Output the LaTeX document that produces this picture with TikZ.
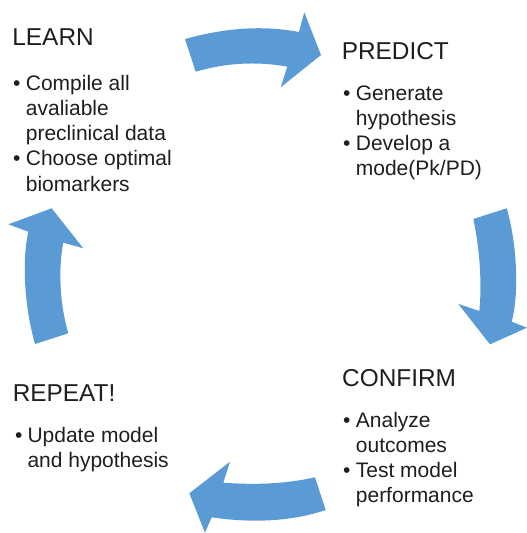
\documentclass[tikz,border=0pt]{standalone}
\usepackage{fontspec}
\setmainfont{Liberation Sans}
\begin{document}
\begin{tikzpicture}[x=1pt,y=-1pt,
  headtext/.style={anchor=base west,inner sep=0pt,text=ink,font=\fontsize{24.4}{29}\selectfont},
  itemtext/.style={anchor=base west,inner sep=0pt,text=ink,font=\fontsize{21}{25}\selectfont},
  dotmark/.style={anchor=base west,inner sep=0pt,text=ink,font=\fontsize{21}{25}\selectfont},
  cyclearrow/.style={fill=arrowblue,draw=none}]
\definecolor{arrowblue}{RGB}{91,155,213}
\definecolor{ink}{RGB}{30,30,30}
\useasboundingbox (0,0) rectangle (527,533);

% curved block arrows of the cycle
\fill[cyclearrow] (185,39) .. controls (225,28) and (262,25) .. (299,32)
  -- (304.3,12.3) -- (321,55) -- (280.7,87.3) -- (287.3,66.7)
  .. controls (257,61) and (225,63) .. (195.7,71.7) -- cycle;
\fill[cyclearrow] (473.3,219) -- (506.7,208.3)
  .. controls (516,240) and (520,290) .. (511.7,321.7)
  -- (527,327.7) -- (490,344.3) -- (458.3,304) -- (479.3,311)
  .. controls (482,285) and (480,250) .. (473.3,219) -- cycle;
\fill[cyclearrow] (315,477.3) -- (325.7,510)
  .. controls (290,522) and (250,523) .. (211.7,517.3)
  -- (205,532.7) -- (189.3,493.3) -- (230,461.7) -- (223.3,482.7)
  .. controls (255,485) and (285,484) .. (315,477.3) -- cycle;
\fill[cyclearrow] (35,344) -- (68.3,333.3)
  .. controls (60,305) and (58,270) .. (63.3,242.7)
  -- (83.3,248.3) -- (51.7,208.3) -- (8.3,224.3) -- (28.3,231.7)
  .. controls (22,260) and (24,305) .. (35,344) -- cycle;

% LEARN
\node[headtext] (learn) at (12.2,45.7) {LEARN};
\node[dotmark] (ld1) at (13,90) {•};
\node[itemtext] (l1a) at (25.7,90) {Compile all};
\node[itemtext] (l1b) at (25.7,115.2) {avaliable};
\node[itemtext] (l1c) at (25.7,140.5) {preclinical data};
\node[dotmark] (ld2) at (13,165.8) {•};
\node[itemtext] (l2a) at (25.7,165.8) {Choose optimal};
\node[itemtext] (l2b) at (25.7,191) {biomarkers};

% PREDICT
\node[headtext] (predict) at (341.6,59) {PREDICT};
\node[dotmark] (pd1) at (343,100) {•};
\node[itemtext] (p1a) at (355.7,100) {Generate};
\node[itemtext] (p1b) at (355.7,125.2) {hypothesis};
\node[dotmark] (pd2) at (343,150.5) {•};
\node[itemtext] (p2a) at (355.7,150.5) {Develop a};
\node[itemtext] (p2b) at (355.7,175.7) {mode(Pk/PD)};

% CONFIRM
\node[headtext] (confirm) at (342,386.3) {CONFIRM};
\node[dotmark] (cd1) at (343,427.7) {•};
\node[itemtext] (c1a) at (355.7,427.7) {Analyze};
\node[itemtext] (c1b) at (355.7,452.7) {outcomes};
\node[dotmark] (cd2) at (343,477.7) {•};
\node[itemtext] (c2a) at (355.7,477.7) {Test model};
\node[itemtext] (c2b) at (355.7,502.7) {performance};

% REPEAT!
\node[headtext] (repeat) at (12.6,401) {REPEAT!};
\node[dotmark] (rd1) at (15,442.7) {•};
\node[itemtext] (r1a) at (27.3,442.7) {Update model};
\node[itemtext] (r1b) at (27.3,467.7) {and hypothesis};
\end{tikzpicture}
\end{document}
